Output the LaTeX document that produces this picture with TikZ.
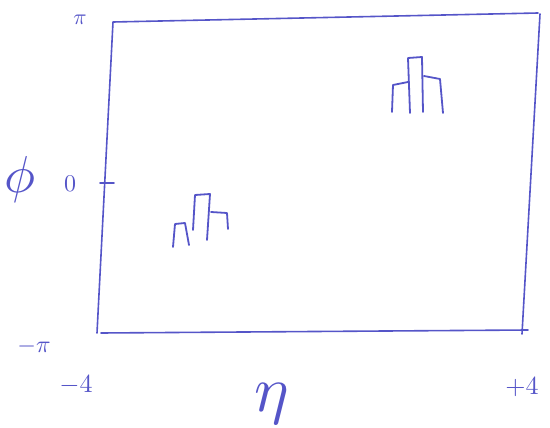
\documentclass[tikz,border=0pt]{standalone}
\usepackage{amsmath,amssymb}
\usetikzlibrary{positioning,calc}
\definecolor{PenBlue}{RGB}{85,85,200}
\tikzset{
  pen/.style={draw=PenBlue,line width=1.6pt,line join=round,line cap=round},
  lbl/.style={text=PenBlue,inner sep=1pt},
  jet/.style={pen,line width=1.8pt},
}
\begin{document}
\begin{tikzpicture}[x=1pt,y=-1pt]
\useasboundingbox (0,0) rectangle (550,428);
% frame corners
\coordinate (tl) at (113,22);
\coordinate (tr) at (538,13);
\coordinate (br) at (522,330);
\coordinate (bl) at (97,333);
\draw[pen] (bl) -- (tl) -- (tr);
\draw[pen] ($(bl)+(4,0)$) -- ($(br)+(6,0)$);
\draw[pen] ($(tr)+(2,1)$) -- ($(br)+(0,4)$);
% tick at phi = 0
\coordinate (t0) at (106,183);
\draw[pen] ($(t0)+(-6,0)$) -- ($(t0)+(8,0)$);
% labels
\node[lbl,scale=2.2] (pi) at (80,20) {$\pi$};
\node[lbl,scale=5.2] (phi) at (20,180) {$\phi$};
\node[lbl,scale=2.4] (zero) at (70,184) {$0$};
\node[lbl,scale=2.4] (mpi) at (34,346) {$-\pi$};
\node[lbl,scale=2.6] (m4) at (76,385) {$-4$};
\node[lbl,scale=2.6] (p4) at (522,387) {$+4$};
\node[lbl,scale=6.5] (eta) at (272,404) {$\eta$};
% jet in the lower left
\draw[jet] (173,247) -- (175,224) -- (185,223) -- (189,245);
\draw[jet] (193,230) -- (195,195) -- (210,194) -- (207,240);
\draw[jet] (211,212) -- (227,213) -- (228,229);
% jet in the upper right
\draw[jet] (392,112) -- (393,85) -- (408,82);
\draw[jet] (410,113) -- (408,58) -- (422,57) -- (423,112);
\draw[jet] (424,76) -- (440,79) -- (443,113);
\end{tikzpicture}
\end{document}
